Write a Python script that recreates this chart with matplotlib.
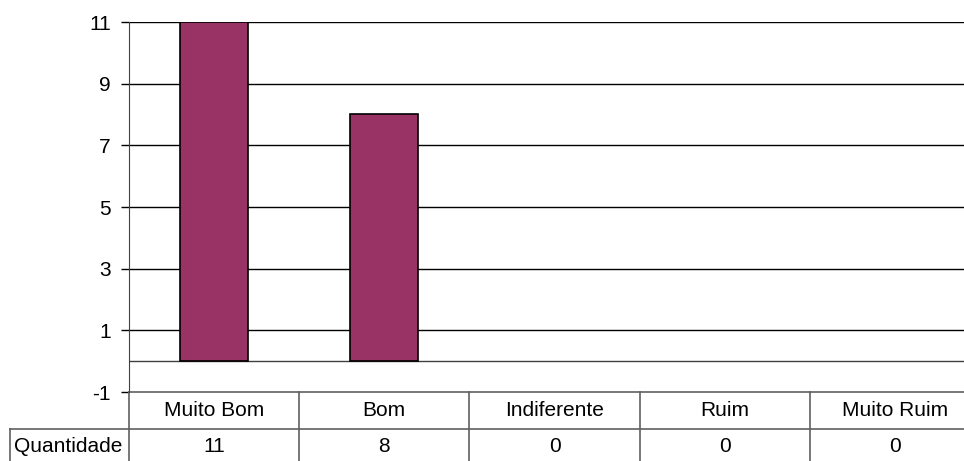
import matplotlib
matplotlib.use("Agg")
import matplotlib.pyplot as plt
from matplotlib.transforms import blended_transform_factory

categories = ["Muito Bom", "Bom", "Indiferente", "Ruim", "Muito Ruim"]
values = [11, 8, 0, 0, 0]
series_name = "Quantidade"
y_ticks = [-1, 1, 3, 5, 7, 9, 11]

plt.rcParams["font.family"] = ["Liberation Sans", "DejaVu Sans"]
FS = 15

W, H = 964, 461
fig = plt.figure(figsize=(W / 100, H / 100), dpi=100)

# plot area runs past the right edge of the picture, as in the original
left, right, top, bottom = 129, 980, 22, 392
ax = fig.add_axes([left / W, 1 - bottom / H, (right - left) / W, (bottom - top) / H])

x = range(len(categories))
ax.bar(x, values, width=0.4, color="#993366", edgecolor="black",
       linewidth=[1.2 if v else 0 for v in values], zorder=3)

ax.set_xlim(-0.5, len(categories) - 0.5)
ax.set_ylim(-1, 11)
ax.set_yticks(y_ticks)
ax.set_yticklabels([str(t) for t in y_ticks], fontsize=FS)
ax.tick_params(axis="y", length=6, width=1, pad=7, colors="black")
ax.set_xticks([])

for t in y_ticks[1:]:
    ax.axhline(t, color="black", lw=1, zorder=1)
ax.axhline(0, color="#404040", lw=1, zorder=1)

for side in ["top", "right", "bottom"]:
    ax.spines[side].set_visible(False)
ax.spines["left"].set_color("#404040")

# data table under the plot
tr = blended_transform_factory(ax.transData, fig.transFigure)
row1_top = 1 - 392 / H
row2_top = 1 - 429 / H
row2_bot = 1 - 470 / H
line_kw = dict(color="#606060", lw=1.2, clip_on=False)

ax.plot([-0.5, len(categories) - 0.5], [row1_top, row1_top], transform=tr, **line_kw)
ax.plot([-0.5, len(categories) - 0.5], [row2_top, row2_top], transform=tr, **line_kw)
for i in range(len(categories) + 1):
    xe = i - 0.5
    ax.plot([xe, xe], [row1_top, row2_bot], transform=tr, **line_kw)

for i, (c, v) in enumerate(zip(categories, values)):
    ax.text(i, 1 - 410 / H, c, transform=tr, ha="center", va="center", fontsize=FS)
    ax.text(i, 1 - 446 / H, str(v), transform=tr, ha="center", va="center", fontsize=FS)

fig.add_artist(plt.Line2D([10 / W, left / W], [row2_top, row2_top], color="#606060", lw=1.2))
fig.add_artist(plt.Line2D([10 / W, 10 / W], [row2_top, row2_bot], color="#606060", lw=1.2))
fig.text(14 / W, 1 - 446 / H, series_name, ha="left", va="center", fontsize=FS)

fig.savefig("out.png", dpi=100)
